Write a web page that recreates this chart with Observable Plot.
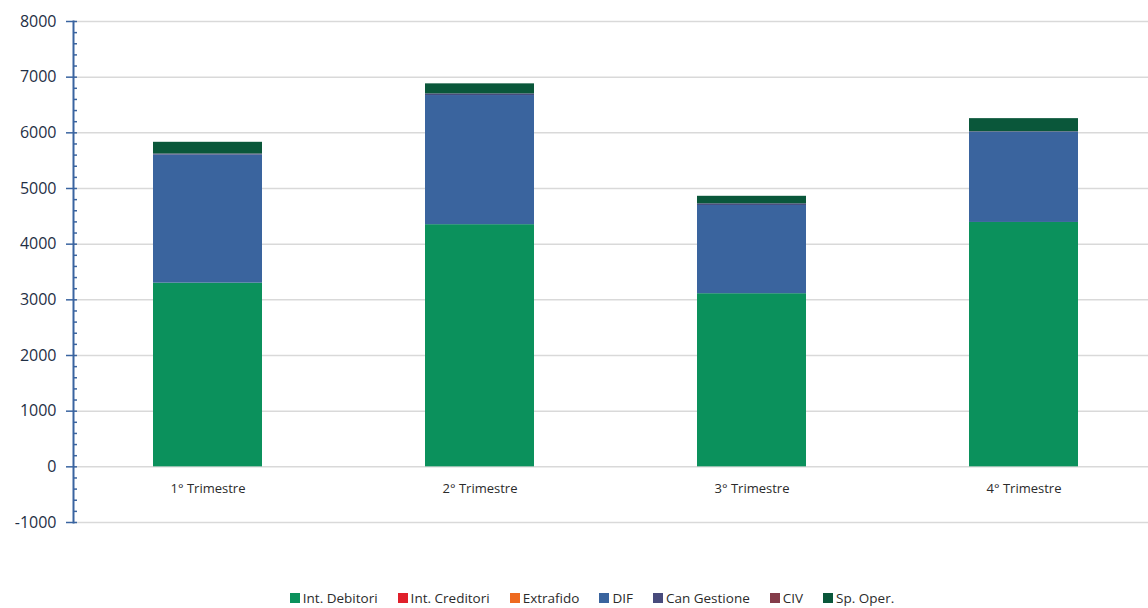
<!DOCTYPE html>
<html>
<head>
<meta charset="utf-8">
<script src="https://cdn.jsdelivr.net/npm/d3@7"></script>
<script src="https://cdn.jsdelivr.net/npm/@observablehq/plot@0.6"></script>
<style>
html, body { margin: 0; padding: 0; background: #fff; overflow: hidden; }
#chart svg { display: block; font-family: "Open Sans", sans-serif; }
#legend { display: flex; justify-content: center; gap: 20px; font-family: "Open Sans", sans-serif; font-size: 13.5px; color: #2b2b2b; margin-top: 44px; padding-left: 36px; }
#legend span.item { display: flex; align-items: center; gap: 3px; }
#legend span.sw { width: 10px; height: 10px; display: inline-block; }
</style>
</head>
<body>
<div id="chart"></div>
<div id="legend"></div>
<script>
const categories = ["1° Trimestre", "2° Trimestre", "3° Trimestre", "4° Trimestre"];
const seriesNames = ["Int. Debitori", "Int. Creditori", "Extrafido", "DIF", "Can Gestione", "CIV", "Sp. Oper."];
const intDebitori = [3300, 4350, 3110, 4390];
const intCreditori = [0, 0, 0, 0];
const extrafido = [0, 0, 0, 0];
const dif = [2300, 2320, 1585, 1620];
const canGestione = [20, 30, 30, 10];
const civ = [0, 0, 0, 0];
const spOper = [210, 180, 135, 235];
const colors = ["#0b915c", "#e0202b", "#ee6a1f", "#3a649e", "#484b7c", "#843c4a", "#0a573a"];
const majorTicks = [-1000, 0, 1000, 2000, 3000, 4000, 5000, 6000, 7000, 8000];

const seriesValues = [intDebitori, intCreditori, extrafido, dif, canGestione, civ, spOper];
const rows = [];
seriesNames.forEach((s, i) => categories.forEach((c, j) => rows.push({cat: c, series: s, value: seriesValues[i][j]})));

const minorTicks = d3.range(-1000, 8001, 200).filter(v => v % 1000 !== 0);

const chart = Plot.plot({
  width: 1148,
  height: 545,
  marginLeft: 73,
  marginRight: 0,
  marginTop: 21,
  marginBottom: 23,
  x: {domain: categories, paddingInner: 0.6, paddingOuter: 0.294, range: [73, 1158], axis: null},
  y: {domain: [-1000, 8000], axis: null, label: null},
  color: {domain: seriesNames, range: colors},
  marks: [
    Plot.ruleY(majorTicks, {stroke: "#d9d9d9", strokeWidth: 1.5}),
    Plot.barY(rows, {x: "cat", y: "value", fill: "series", order: seriesNames}),
    Plot.text(categories, {x: d => d, y: 0, dy: 22, text: d => d, fontSize: 13, fill: "#2b2b2b"}),
    Plot.axisY({ticks: minorTicks, tickSize: 4, dx: 4, tickFormat: () => "", label: null, stroke: "#3a64a0", strokeWidth: 1.5}),
    Plot.axisY({ticks: majorTicks, tickSize: 11, dx: 4, tickFormat: () => "", label: null, stroke: "#3a64a0", strokeWidth: 1.5}),
    Plot.axisY({ticks: majorTicks, tickSize: 0, tickPadding: 17, fontSize: 16, fill: "#1f2f45", label: null, tickFormat: d => String(d)}),
    Plot.frame({anchor: "left", stroke: "#3a64a0", strokeWidth: 2})
  ]
});
document.getElementById("chart").appendChild(chart);

const legend = document.getElementById("legend");
seriesNames.forEach((s, i) => {
  const item = document.createElement("span");
  item.className = "item";
  const sw = document.createElement("span");
  sw.className = "sw";
  sw.style.background = colors[i];
  item.appendChild(sw);
  item.appendChild(document.createTextNode(s));
  legend.appendChild(item);
});
</script>
</body>
</html>
